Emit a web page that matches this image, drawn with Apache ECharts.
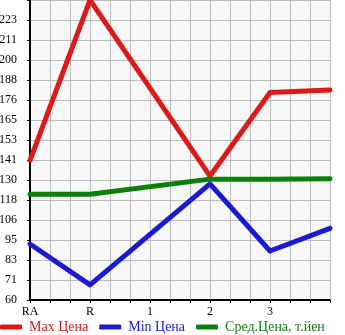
<!DOCTYPE html>
<html><head><meta charset="utf-8">
<script src="https://cdn.jsdelivr.net/npm/echarts@6/dist/echarts.min.js"></script>
<style>html,body{margin:0;padding:0;background:#fff}#c{width:345px;height:335px}</style>
</head><body><div id="c"></div>
<script>
var categories = ['RA', 'R', '1', '2', '3', ''];
var maxPrice = [141.5, 235, null, 132.3, 181, 182.5];
var minPrice = [92.7, 68.8, null, 127.7, 88.6, 101.8];
var avgPrice = [121.7, 121.7, null, 130.5, 130.5, 130.8];
var seriesNames = ['Max Цена', 'Min Цена', 'Сред.Цена, т.йен'];
var colors = ['#dc1a1a', '#1a1ad2', '#0c7e0c'];
var yMin = 60, yMax = 235, ySteps = 15;

function toPairs(arr) {
  var out = [];
  arr.forEach(function (v, i) { if (v !== null) out.push([i, v]); });
  return out;
}
var fontFam = '"Liberation Serif", "DejaVu Serif", serif';
var chart = echarts.init(document.getElementById('c'), null, {renderer: 'canvas'});
chart.setOption({
  animation: false,
  backgroundColor: '#ffffff',
  grid: {left: 30, right: 15, top: 0, bottom: 35, containLabel: false, outerBoundsMode: 'none', show: true, backgroundColor: '#f7f7f7', borderWidth: 0},
  legend: {
    left: 0, top: 320, padding: 0, itemWidth: 22, itemHeight: 5, itemGap: 11,
    icon: 'roundRect',
    textStyle: {fontFamily: fontFam, fontSize: 14, padding: [0, 0, 0, 2]},
    data: seriesNames.map(function (n, i) { return {name: n, textStyle: {color: colors[i]}}; })
  },
  xAxis: {
    type: 'value', min: 0, max: categories.length - 1, interval: 1 / 3,
    axisLine: {show: true, onZero: false, lineStyle: {color: '#000', width: 2}},
    axisTick: {show: true, length: 3, inside: false, lineStyle: {color: '#000', width: 1}},
    splitLine: {show: true, lineStyle: {color: '#bcbcbc', width: 1}},
    axisLabel: {
      color: '#000', fontFamily: fontFam, fontSize: 12, margin: 6,
      formatter: function (v) {
        var r = Math.round(v);
        if (Math.abs(v - r) < 1e-6) return categories[r] || '';
        return '';
      }
    }
  },
  yAxis: {
    type: 'value', min: yMin, max: yMax, interval: (yMax - yMin) / ySteps,
    axisLine: {show: true, lineStyle: {color: '#000', width: 2}},
    axisTick: {show: true, length: 3, lineStyle: {color: '#000', width: 1}},
    splitLine: {show: true, lineStyle: {color: '#bcbcbc', width: 1}},
    axisLabel: {
      color: '#000', fontFamily: fontFam, fontSize: 12, margin: 13,
      verticalAlign: 'middle', padding: [0, 0, 8, 0],
      formatter: function (v) { return v >= yMax - 1e-6 ? '' : String(Math.floor(v + 1e-6)); }
    }
  },
  series: [maxPrice, minPrice, avgPrice].map(function (d, i) {
    return {
      name: seriesNames[i], type: 'line', data: toPairs(d), symbol: 'none',
      lineStyle: {color: colors[i], width: 5, cap: 'round', join: 'round'},
      itemStyle: {color: colors[i]}, connectNulls: true
    };
  })
});
</script></body></html>
